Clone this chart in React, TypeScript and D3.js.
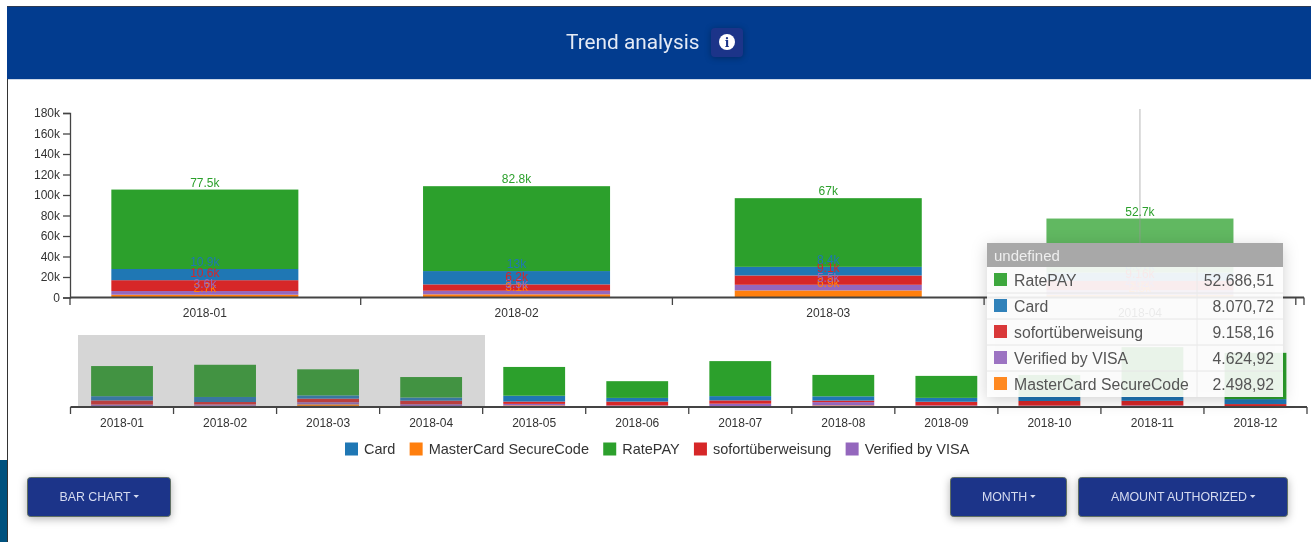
import * as d3 from 'd3'
import { useEffect, useRef } from 'react'

const months = ['2018-01', '2018-02', '2018-03', '2018-04', '2018-05', '2018-06', '2018-07', '2018-08', '2018-09', '2018-10', '2018-11', '2018-12']
const card = [10900, 13000, 8400, 8070.72, 15000, 9400, 11000, 11000, 10000, 11000, 11000, 12800]
const masterCard = [2700, 3100, 6900, 2498.92, 4000, 1500, 2500, 4000, 1500, 1000, 1000, 500]
const ratePay = [77500, 82800, 67000, 52686.51, 74000, 43000, 90000, 55000, 56500, 56000, 127000, 119000]
const sofort = [10600, 6200, 9100, 9158.16, 6000, 10000, 8500, 4000, 9500, 12000, 12000, 6000]
const visa = [3600, 3500, 5500, 4624.92, 4000, 2500, 6000, 8500, 2500, 2500, 3000, 1000]

const legendNames = ['Card', 'MasterCard SecureCode', 'RatePAY', 'sofortüberweisung', 'Verified by VISA']
const stackOrder = ['MasterCard SecureCode', 'Verified by VISA', 'sofortüberweisung', 'Card', 'RatePAY']
const tooltipOrder = ['RatePAY', 'Card', 'sofortüberweisung', 'Verified by VISA', 'MasterCard SecureCode']
const seriesByName: Record<string, number[]> = {
  Card: card,
  'MasterCard SecureCode': masterCard,
  RatePAY: ratePay,
  'sofortüberweisung': sofort,
  'Verified by VISA': visa,
}
const hoveredMonth = '2018-04'
const yTicks = d3.range(0, 180001, 20000)

const FONT = '"Liberation Sans", Arial, sans-serif'

export default function App() {
  const ref = useRef<SVGSVGElement | null>(null)

  useEffect(() => {
    if (!ref.current) return
    const svg = d3.select(ref.current)
    svg.selectAll('*').remove()
    svg.attr('font-family', FONT)

    const color = d3.scaleOrdinal<string, string>().domain(legendNames).range(d3.schemeCategory10)
    const rows = months.map((m, i) => {
      const row: Record<string, any> = { month: m }
      legendNames.forEach(n => { row[n] = seriesByName[n][i] })
      return row
    })
    const stacked = d3.stack<any>().keys(stackOrder)(rows)
    const kFormat = d3.format('.3~s')
    const tipFormat = d3.formatLocale({ decimal: ',', thousands: '.', grouping: [3], currency: ['', ''] }).format(',.2f')

    // page chrome
    svg.append('rect').attr('width', 1311).attr('height', 542).attr('fill', '#fff')
    svg.append('rect').attr('x', 0).attr('y', 460).attr('width', 7).attr('height', 82).attr('fill', '#00527f')
    svg.append('rect').attr('x', 7).attr('y', 6).attr('width', 1304).attr('height', 1).attr('fill', '#2b3a55')
    svg.append('rect').attr('x', 7).attr('y', 7).attr('width', 1304).attr('height', 72).attr('fill', '#023c8f')
    svg.append('rect').attr('x', 7).attr('y', 79).attr('width', 1304).attr('height', 1).attr('fill', '#cdd8e8')
    svg.append('rect').attr('x', 7).attr('y', 79).attr('width', 1).attr('height', 463).attr('fill', '#333')

    svg.append('text').attr('x', 566).attr('y', 49).attr('font-family', 'Roboto, sans-serif')
      .attr('font-size', 20.8).attr('fill', '#e4eaf5').text('Trend analysis')
    svg.append('rect').attr('x', 711).attr('y', 28).attr('width', 32).attr('height', 29).attr('rx', 4)
      .attr('fill', '#1c3489').style('filter', 'drop-shadow(0 1px 3px rgba(0,0,0,.3))')
    svg.append('circle').attr('cx', 727).attr('cy', 42).attr('r', 8).attr('fill', '#fff')
    svg.append('text').attr('x', 727).attr('y', 47).attr('text-anchor', 'middle')
      .attr('font-family', '"DejaVu Serif", serif').attr('font-weight', 700)
      .attr('font-size', 12).attr('fill', '#1c3489').text('i')

    // focus chart: the brush shows the first four months
    const step = 311.7
    const focusEnd = 1304
    const x = d3.scaleBand().domain(months).range([49, 49 + step * months.length]).paddingInner(0.4).paddingOuter(0.2)
    const y = d3.scaleLinear().domain([0, 180000]).range([297.5, 113])
    const inView = (m: string) => (x(m) ?? 0) < focusEnd
    const focus = svg.append('g')

    stacked.forEach(layer => {
      focus.append('g').selectAll('rect').data(layer.filter((d: any) => inView(d.data.month))).enter().append('rect')
        .attr('x', (d: any) => x(d.data.month) ?? 0)
        .attr('width', x.bandwidth())
        .attr('y', (d: any) => y(d[1]))
        .attr('height', (d: any) => y(d[0]) - y(d[1]))
        .attr('fill', color(layer.key))
        .attr('opacity', (d: any) => (d.data.month === hoveredMonth ? 0.75 : 1))
    })
    stacked.forEach(layer => {
      focus.append('g').selectAll('text').data(layer.filter((d: any) => inView(d.data.month))).enter().append('text')
        .attr('x', (d: any) => (x(d.data.month) ?? 0) + x.bandwidth() / 2)
        .attr('y', (d: any) => y(d[1]) - 3)
        .attr('text-anchor', 'middle')
        .attr('font-size', 12)
        .attr('fill', color(layer.key))
        .text((d: any) => kFormat(d.data[layer.key]))
    })

    const focusAxis = focus.append('g').attr('transform', 'translate(0,297.5)')
      .call(d3.axisBottom(x).tickValues(months.filter(inView)).tickSize(0).tickPadding(11))
    focusAxis.select('.domain').remove()
    focusAxis.selectAll('text').attr('font-family', FONT).attr('font-size', 12).attr('fill', '#333')
    const focusEdges = [70, ...months.map((_, i) => 49 + step * (i + 1)).filter(v => v < focusEnd), focusEnd]
    focus.append('line').attr('x1', 70).attr('x2', focusEnd).attr('y1', 297.5).attr('y2', 297.5)
      .attr('stroke', '#444').attr('stroke-width', 1.8)
    focus.append('g').selectAll('line').data(focusEdges).enter().append('line')
      .attr('x1', d => d).attr('x2', d => d).attr('y1', 297.5).attr('y2', 305)
      .attr('stroke', '#444').attr('stroke-width', 1.3)

    const yAxis = svg.append('g').attr('transform', 'translate(70,0)')
      .call(d3.axisLeft(y).tickValues(yTicks).tickFormat(d => (d === 0 ? '0' : kFormat(d as number))).tickSize(7).tickPadding(3))
    yAxis.selectAll('text').attr('font-family', FONT).attr('font-size', 12).attr('fill', '#333')
    yAxis.selectAll('path,line').attr('stroke', '#444').attr('stroke-width', 1.3)

    // context chart
    const contextRange: [number, number] = [70.5, 1307]
    const x2 = d3.scaleBand().domain(months).range(contextRange).paddingInner(0.4).paddingOuter(0.2)
    const y2 = d3.scaleLinear().domain([0, 180000]).range([407, 337])
    const context = svg.append('g')
    stacked.forEach(layer => {
      context.append('g').selectAll('rect').data(layer).enter().append('rect')
        .attr('x', (d: any) => x2(d.data.month) ?? 0)
        .attr('width', x2.bandwidth())
        .attr('y', (d: any) => y2(d[1]))
        .attr('height', (d: any) => y2(d[0]) - y2(d[1]))
        .attr('fill', color(layer.key))
    })
    context.append('rect').attr('x', 78).attr('y', 335).attr('width', 407).attr('height', 72)
      .attr('fill', '#777').attr('fill-opacity', 0.3)
    const contextAxis = context.append('g').attr('transform', 'translate(0,407)')
      .call(d3.axisBottom(x2).tickSize(0).tickPadding(11))
    contextAxis.select('.domain').remove()
    contextAxis.selectAll('text').attr('font-family', FONT).attr('font-size', 12).attr('fill', '#333')
    context.append('line').attr('x1', contextRange[0]).attr('x2', contextRange[1]).attr('y1', 407).attr('y2', 407)
      .attr('stroke', '#444').attr('stroke-width', 1.8)
    const contextStep = x2.step()
    context.append('g').selectAll('line').data(d3.range(months.length + 1)).enter().append('line')
      .attr('x1', d => contextRange[0] + d * contextStep).attr('x2', d => contextRange[0] + d * contextStep)
      .attr('y1', 407).attr('y2', 414).attr('stroke', '#444').attr('stroke-width', 1.3)

    // legend, laid out from measured text widths
    let legendX = 345
    legendNames.forEach(name => {
      svg.append('rect').attr('x', legendX).attr('y', 442.5).attr('width', 13).attr('height', 13).attr('fill', color(name))
      const label = svg.append('text').attr('x', legendX + 19).attr('y', 454).attr('font-size', 14.5).attr('fill', '#333').text(name)
      legendX += 19 + (label.node() as SVGTextElement).getComputedTextLength() + 14.2
    })

    // hover guide and tooltip
    const hoverX = (x(hoveredMonth) ?? 0) + x.bandwidth() / 2
    svg.append('line').attr('x1', hoverX).attr('x2', hoverX).attr('y1', 109).attr('y2', 297)
      .attr('stroke', '#999').attr('stroke-opacity', 0.7)
    const tipW = 296, rowH = 26, tipTitleH = 24
    const tip = svg.append('g').attr('transform', 'translate(987,243)')
    tip.append('rect').attr('width', tipW).attr('height', tipTitleH + rowH * tooltipOrder.length)
      .attr('fill', '#fff').attr('fill-opacity', 0.9).style('filter', 'drop-shadow(0 3px 8px rgba(0,0,0,.2))')
    tip.append('rect').attr('width', tipW).attr('height', tipTitleH).attr('fill', '#a8a8a8')
    tip.append('text').attr('x', 7).attr('y', 18).attr('font-size', 15).attr('fill', '#eee').text('undefined')
    const hoverIndex = months.indexOf(hoveredMonth)
    tooltipOrder.forEach((name, i) => {
      const top = tipTitleH + i * rowH
      tip.append('rect').attr('x', 7).attr('y', top + 6).attr('width', 13).attr('height', 13).attr('fill', color(name)).attr('fill-opacity', 0.92)
      tip.append('text').attr('x', 27).attr('y', top + 19).attr('font-size', 15.8).attr('fill', '#555').text(name)
      tip.append('text').attr('x', 287).attr('y', top + 19).attr('text-anchor', 'end').attr('font-size', 15.8).attr('fill', '#555')
        .text(tipFormat(seriesByName[name][hoverIndex]))
      if (i > 0) {
        tip.append('line').attr('x1', 0).attr('x2', tipW).attr('y1', top).attr('y2', top).attr('stroke', '#e6e6e6')
      }
    })
    tip.append('line').attr('x1', 210).attr('x2', 210).attr('y1', tipTitleH).attr('y2', tipTitleH + rowH * tooltipOrder.length).attr('stroke', '#eaeaea')

    // dropdown buttons
    const buttons = [
      { label: 'BAR CHART', left: 27, right: 171 },
      { label: 'MONTH', left: 950, right: 1067 },
      { label: 'AMOUNT AUTHORIZED', left: 1078, right: 1288 },
    ]
    buttons.forEach(b => {
      const g = svg.append('g')
      g.append('rect').attr('x', b.left + 0.5).attr('y', 477.5).attr('width', b.right - b.left - 1).attr('height', 39).attr('rx', 3)
        .attr('fill', '#1c3489').attr('stroke', '#5f6f63')
        .style('filter', 'drop-shadow(0 2px 4px rgba(0,0,0,.3))')
      const cx = (b.left + b.right) / 2
      const label = g.append('text').attr('x', cx - 4).attr('y', 501).attr('text-anchor', 'middle')
        .attr('font-size', 12.4).attr('letter-spacing', -0.05).attr('fill', '#d5dbf0').text(b.label)
      const w = (label.node() as SVGTextElement).getComputedTextLength()
      const cr = cx - 4 + w / 2 + 3
      g.append('path').attr('d', `M${cr},495 h5.5 l-2.75,3 z`).attr('fill', '#d5dbf0')
    })
  }, [])

  return <svg ref={ref} width={1311} height={542} style={{ position: 'absolute', left: 0, top: 0, display: 'block', filter: 'blur(0.45px)' }} />
}
